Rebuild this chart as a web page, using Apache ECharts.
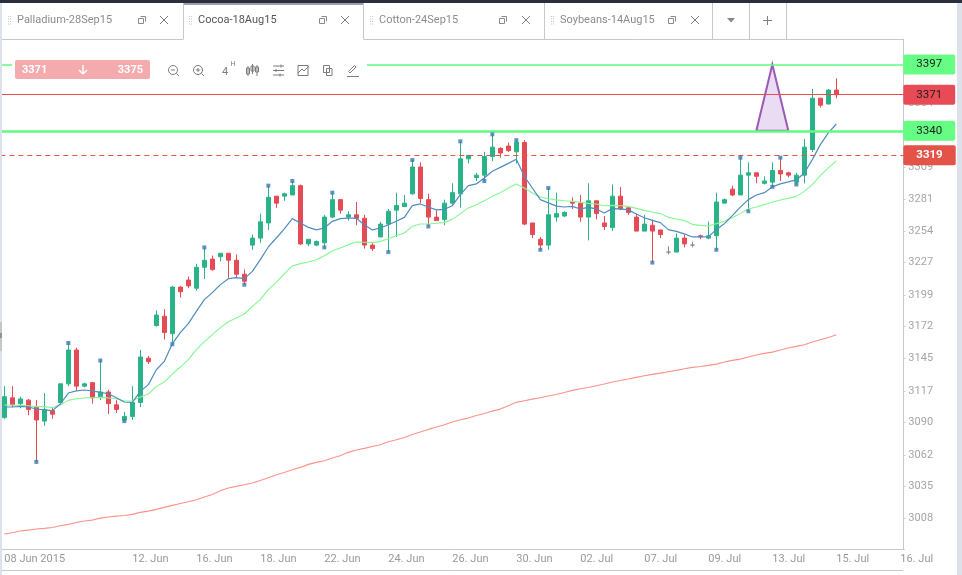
<!DOCTYPE html>
<html>
<head>
<meta charset="utf-8">
<title>Cocoa-18Aug15</title>
<style>
html,body{margin:0;padding:0;background:#fff;overflow:hidden}
#chart{width:962px;height:575px}
</style>
<script src="https://cdn.jsdelivr.net/npm/echarts@6/dist/echarts.min.js"></script>
</head>
<body>
<div id="chart"></div>
<script>
// Four-hour cocoa candles: [open, close, low, high]
const candles = [
[3094,3112,3093,3121],[3111,3105,3103,3121],[3106,3110,3102,3112],[3109,3101,3096,3110],[3103,3092,3056,3109],
[3091,3101,3087,3115],[3100,3097,3093,3103],[3107,3123,3106,3123],[3123,3152,3121,3158],[3152,3121,3117,3154],
[3121,3123,3120,3124],[3124,3111,3106,3124],[3112,3116,3109,3143],[3116,3106,3097,3118],[3105,3101,3098,3109],
[3092,3095,3091,3099],[3095,3107,3092,3121],[3107,3146,3103,3152],[3145,3142,3140,3147],[3173,3182,3172,3186],
[3181,3167,3161,3187],[3166,3206,3157,3207],[3206,3202,3197,3207],[3212,3207,3205,3215],[3205,3223,3203,3226],
[3223,3229,3213,3240],[3230,3221,3220,3233],[3232,3235,3228,3235],[3235,3229,3214,3235],[3229,3217,3214,3234],
[3217,3211,3208,3221],[3242,3248,3238,3251],[3248,3262,3244,3269],[3261,3283,3255,3293],[3284,3278,3274,3284],
[3284,3286,3280,3287],[3285,3293,3285,3297],[3293,3243,3242,3294],[3243,3247,3241,3247],[3242,3245,3241,3246],
[3244,3266,3240,3268],[3266,3281,3265,3287],[3281,3272,3269,3281],[3266,3268,3263,3271],[3268,3265,3259,3279],
[3265,3242,3239,3268],[3242,3239,3237,3244],[3249,3260,3249,3262],[3260,3271,3236,3273],[3272,3276,3249,3287],
[3275,3278,3275,3285],[3286,3309,3285,3315],[3309,3282,3278,3313],[3281,3266,3258,3286],[3266,3263,3263,3272],
[3264,3278,3259,3281],[3278,3287,3277,3295],[3286,3316,3274,3331],[3316,3319,3312,3319],[3300,3302,3297,3304],
[3302,3318,3297,3322],[3318,3326,3314,3337],[3325,3321,3317,3326],[3327,3323,3322,3330],[3322,3330,3312,3332],
[3330,3260,3259,3332],[3261,3251,3248,3261],[3247,3242,3238,3249],[3242,3268,3238,3291],[3266,3269,3262,3287],
[3267,3270,3266,3271],[3279,3278,3273,3283],[3278,3266,3262,3285],[3266,3280,3246,3295],[3280,3269,3264,3280],
[3261,3258,3255,3267],[3257,3284,3254,3294],[3284,3273,3272,3292],[3274,3270,3268,3274],[3266,3254,3254,3269],
[3254,3260,3254,3268],[3259,3254,3227,3264],[3255,3251,3248,3255],[3236,3236,3234,3241],[3236,3248,3236,3252],
[3248,3243,3240,3251],[3242,3242,3240,3245],[3250,3249,3247,3251],[3248,3250,3247,3262],[3250,3279,3238,3287],
[3278,3281,3278,3282],[3290,3285,3284,3293],[3285,3302,3285,3317],[3302,3304,3271,3313],[3304,3301,3295,3304],
[3295,3297,3294,3301],[3296,3306,3292,3313],[3306,3303,3297,3317],[3304,3302,3300,3305],[3296,3302,3294,3304],
[3302,3326,3295,3333],[3324,3368,3322,3376],[3368,3362,3360,3368],[3363,3375,3363,3376],[3375,3371,3368,3385]
];

// Fast moving average
const fastAverage = [
3103.1,3103.1,3103.6,3103.1,3101.4,3100.6,3100,3105.7,3115.1,3116.9,3117.7,3116.9,3115.7,3114.5,3111.1,
3107.4,3107.1,3116.5,3122.3,3135.1,3142.3,3157.4,3166.9,3174.6,3185.2,3195.2,3201.2,3208.1,3213.2,3214.1,
3213.2,3219.5,3229.5,3240.4,3248.1,3255.9,3264.7,3261,3257.2,3255,3256.7,3262.4,3264.7,3265.1,3265.1,
3259.5,3255,3256.7,3259.5,3262.4,3265.8,3275.8,3277.3,3274.7,3272.2,3272.7,3275.8,3285.3,3293,3294.5,
3299.6,3305.3,3308.7,3312.1,3315.6,3301,3291,3281,3278.2,3275.4,3274.7,3275.2,3273,3274.4,3273,
3269.6,3273.3,3273,3272.2,3268.7,3265.5,3263.2,3261.3,3255.3,3253.8,3251.6,3249,3249,3249.2,3255.3,
3260.4,3267.3,3274.6,3281,3285,3287,3291.9,3294.5,3296.2,3297.9,3303.9,3315.3,3328.2,3338.2,3345.9
];

// Medium moving average
const mediumAverage = [
3104.8,3104.8,3104.5,3104.2,3103.4,3103.4,3102.5,3105.1,3108.8,3110.2,3110.9,3111.1,3111.4,3110.9,3110.2,
3108.3,3108.5,3111.7,3114.3,3120.8,3124.6,3131.4,3137.4,3143.7,3152.3,3159.2,3165.2,3171.2,3176.3,3179.5,
3182.9,3189.4,3195.2,3203.8,3210,3217.5,3224.1,3226.1,3227.5,3229.5,3232.9,3237.2,3239.5,3242.4,3244.7,
3244.5,3244.1,3245.2,3247.5,3250.1,3252.4,3258.1,3260.1,3260.1,3260.7,3261.5,3264.1,3269,3273.9,3276.7,
3280.1,3283.8,3287,3291,3294.5,3291,3286.7,3283.3,3281.8,3280.8,3280,3279.5,3278.7,3277.8,3277.3,
3275.8,3276.1,3275.8,3275.2,3273.5,3271.8,3270.4,3269,3265.8,3264.4,3263,3259.8,3258.9,3258.4,3260.4,
3262.5,3265.5,3269,3273,3274.7,3276.7,3279,3280.7,3282.1,3283.8,3288.1,3293.9,3301.6,3308.2,3314.2
];

// Slow moving average
const slowAverage = [
2994.1,2995.2,2996.7,2997.5,2998.4,2999,2999.8,3001.3,3002.4,3004.1,3005.3,3006.1,3007.8,3008.7,3009.5,
3010.1,3011,3012.7,3013.8,3015.3,3017,3018.7,3020.4,3021.8,3023.6,3025.9,3028.1,3031.3,3033.6,3035,
3036.4,3037.9,3040.1,3042.4,3045,3047,3049.3,3051.3,3053.9,3055.6,3057,3059.3,3061.3,3064.2,3066.2,
3067.6,3069.3,3070.7,3073.3,3075,3077,3079.6,3081.6,3083.9,3085.9,3087.9,3090.2,3092.2,3093.6,3095.9,
3097.6,3099.6,3101.3,3104.2,3107.1,3108.5,3109.9,3111.1,3112.5,3113.9,3115.6,3117.4,3118.8,3119.9,3121.4,
3122.8,3124.5,3125.9,3127.1,3128.5,3129.9,3131.1,3132.2,3133.4,3134.5,3135.9,3137.1,3137.9,3138.8,3139.9,
3141.7,3143.1,3144.2,3146,3147.7,3149.1,3150.2,3152,3153.7,3155.1,3156.5,3158.8,3160.8,3162.8,3165.1
];

// Candles flagged as swing points, marked at the end of the wick
const swingHighs = [8,12,25,33,36,41,51,57,61,64,68,92,97];
const swingLows = [4,15,21,30,40,48,53,60,67,81,89,93,96,99];
const dojis = [83,86];

// Price levels
const resistanceLevel = 3397;
const lastPrice = 3371;
const supportLevel = 3340;
const dashedLevel = 3319;
const bidPrice = 3371;
const askPrice = 3375;

// Triangle pattern: left, apex and right candle, base and apex price
const triangleIndexes = [94,96,98];
const trianglePrices = [3340,3397];

// Axis labels
const priceTicks = [3008,3035,3062,3090,3117,3145,3172,3199,3227,3254,3281,3309,3336,3364,3391];
const dateTickIndexes = [0,16,24,32,40,48,56,64,72,80,88,96,104,112];
const dateTickLabels = ['08 Jun 2015','12. Jun','16. Jun','18. Jun','22. Jun','24. Jun','26. Jun','30. Jun','02. Jul','07. Jul','09. Jul','13. Jul','15. Jul','16. Jul'];
const slotCount = 113;
const tabTitles = ['Palladium-28Sep15','Cocoa-18Aug15','Cotton-24Sep15','Soybeans-14Aug15'];

const UP = '#2ab389', DOWN = '#e64b55', GREY = '#8a8a8a', LINE_GREEN = '#62fb82', FRAME = '#c5c8cd', ICON = '#7d7d7d';

const categories = [];
for (let i = 0; i < slotCount; i++) {
  const at = dateTickIndexes.indexOf(i);
  categories.push(at >= 0 ? dateTickLabels[at] : '');
}

const candleData = candles.map((c, i) => dojis.includes(i)
  ? {value: c, itemStyle: {color: GREY, color0: GREY, borderColor: GREY, borderColor0: GREY}}
  : c);

const swingPoints = swingHighs.map(i => [i, candles[i][3]])
  .concat(swingLows.map(i => [i, candles[i][2]]));

function averageSeries(name, data, color, z, width) {
  return {name, type: 'line', data, symbol: 'none', smooth: false, z,
    lineStyle: {color, width}, silent: true};
}

function levelLine(value, color, width, dash, tagBg, tagColor, bold) {
  return {
    yAxis: value,
    lineStyle: {color, width, type: dash || 'solid', opacity: 1},
    label: {
      show: true, position: 'end', distance: -1, formatter: String(value),
      backgroundColor: tagBg, color: tagColor, borderRadius: 2,
      padding: [4, 13], fontSize: 11.5, lineHeight: 12,
      fontFamily: 'Roboto', fontWeight: bold ? 'bold' : 'normal'
    }
  };
}

/* Window chrome helpers */
const chrome = [];
function rect(x, y, w, h, fill, r) {
  chrome.push({type: 'rect', silent: true, z: 50, shape: {x, y, width: w, height: h, r: r || 0}, style: {fill}});
}
function stroke(x1, y1, x2, y2, color, w) {
  chrome.push({type: 'line', silent: true, z: 51, shape: {x1, y1, x2, y2}, style: {stroke: color || ICON, lineWidth: w || 1}});
}
function text(x, y, str, color, size, weight, align) {
  chrome.push({type: 'text', silent: true, z: 52, x, y, style: {
    text: str, fill: color, fontSize: size, fontWeight: weight || 'normal',
    fontFamily: 'Roboto', align: align || 'left', verticalAlign: 'middle'}});
}
function outline(x, y, w, h, color) {
  chrome.push({type: 'rect', silent: true, z: 51, shape: {x, y, width: w, height: h}, style: {fill: 'none', stroke: color || ICON, lineWidth: 1}});
}
function circle(cx, cy, r) {
  chrome.push({type: 'circle', silent: true, z: 51, shape: {cx, cy, r}, style: {fill: 'none', stroke: ICON, lineWidth: 1}});
}
function grip(x) {
  for (let k = 0; k < 4; k++) {
    rect(x, 16 + k * 2.5, 1, 1, '#c4c4c4');
    rect(x + 2, 16 + k * 2.5, 1, 1, '#c4c4c4');
  }
}
function tabButtons(restoreX, closeX) {
  outline(restoreX - 3.5, 18.5, 5, 5, '#8a8a8a');
  stroke(restoreX - 1.5, 16.5, restoreX + 3.5, 16.5, '#8a8a8a');
  stroke(restoreX + 3.5, 16.5, restoreX + 3.5, 21.5, '#8a8a8a');
  stroke(closeX - 4, 16, closeX + 4, 24, '#7a7a7a');
  stroke(closeX + 4, 16, closeX - 4, 24, '#7a7a7a');
}

// Page edges
rect(0, 0, 962, 3, '#2b2f3d');
rect(0, 3, 2, 572, '#dde1ea');
rect(957, 3, 5, 572, '#dde1ea');
rect(0, 322, 2, 29, '#c3c6cc');
rect(0, 333, 2, 5, '#8e9196');

// Tab strip
stroke(2, 39.5, 183, 39.5, FRAME);
stroke(364, 39.5, 903, 39.5, FRAME);
[183.5, 363.5, 544.5, 712.5, 749.5, 786.5].forEach(x => stroke(x, 3, x, 39.5, FRAME));
rect(183, 3, 181, 2, '#9aa0ae');
[[17, 8, 142, 164], [198, 189, 323, 345], [379, 370, 503, 526], [560, 551, 672, 695]].forEach((t, i) => {
  text(t[0], 20, tabTitles[i], i === 1 ? '#555' : '#8c8c8c', 11);
  grip(t[1]);
  tabButtons(t[2], t[3]);
});
chrome.push({type: 'polygon', silent: true, z: 51, shape: {points: [[727, 18], [735, 18], [731, 22.5]]}, style: {fill: '#888'}});
stroke(763, 20.5, 772, 20.5, '#808080');
stroke(767.5, 16, 767.5, 25, '#808080');

// Trade toolbar
rect(12, 55, 355, 25, '#ffffff');
rect(15, 60, 135, 19, '#f4abae', 2);
text(22, 70, String(bidPrice), '#fff', 11, 'bold');
text(143, 70, String(askPrice), '#fff', 11, 'bold', 'right');
stroke(83, 65, 83, 74, '#fff', 1.5);
stroke(79, 70, 83, 74, '#fff', 1.5);
stroke(87, 70, 83, 74, '#fff', 1.5);
circle(173, 70, 4.5); stroke(176.5, 73.5, 179, 76); stroke(171, 70, 175, 70);
circle(198, 70, 4.5); stroke(201.5, 73.5, 204, 76); stroke(196, 70, 200, 70); stroke(198, 68, 198, 72);
text(225, 72, '4', ICON, 11, 'normal', 'center');
text(233, 64, 'H', ICON, 7, 'normal', 'center');
[[248, 66, 76, 68, 74], [252.5, 64, 74, 66, 71], [257, 65, 76, 67, 72]].forEach(c => {
  stroke(c[0], c[1], c[0], c[2]);
  outline(c[0] - 1.5, c[3], 3, c[4] - c[3]);
});
[66, 70.5, 75].forEach(y => stroke(273, y, 284, y));
stroke(281, 64.5, 281, 67.5); stroke(276, 69, 276, 72); stroke(280, 73.5, 280, 76.5);
outline(298, 65.5, 10, 10);
stroke(298, 73, 302, 69); stroke(302, 69, 304, 71); stroke(304, 71, 309, 66);
outline(323.5, 65.5, 6, 7); outline(326.5, 68.5, 5.5, 7);
stroke(347, 76.5, 359, 76.5);
stroke(350, 73, 356, 67); stroke(348.5, 71.5, 354.5, 65.5); stroke(348.5, 71.5, 350, 73); stroke(354.5, 65.5, 356, 67);

// Bottom frame
stroke(2, 570.5, 903, 570.5, FRAME);

const chart = echarts.init(document.getElementById('chart'), null, {renderer: 'canvas'});
chart.setOption({
  animation: false,
  backgroundColor: '#ffffff',
  grid: {left: 0.33, top: 39, width: 904, height: 510, containLabel: false},
  xAxis: {
    type: 'category', data: categories, boundaryGap: true,
    axisLine: {lineStyle: {color: FRAME, width: 1}},
    axisTick: {alignWithLabel: true, length: 3, interval: i => i % 4 === 0, lineStyle: {color: FRAME}},
    axisLabel: {
      interval: i => categories[i] !== '', align: 'left', color: '#999',
      fontFamily: 'Roboto', fontSize: 11, margin: 5, hideOverlap: false
    },
    splitLine: {show: false}
  },
  yAxis: {
    type: 'value', position: 'right', offset: -1, min: 2981.3, max: 3418.8, scale: true,
    axisLine: {show: true, lineStyle: {color: FRAME, width: 1}},
    axisTick: {show: true, length: 2, customValues: priceTicks, lineStyle: {color: FRAME}},
    axisLabel: {customValues: priceTicks, formatter: v => String(v), color: '#a5a5a5', fontFamily: 'Roboto', fontSize: 11, margin: 5},
    splitLine: {show: false}
  },
  series: [
    {
      name: 'Cocoa', type: 'candlestick', data: candleData, barWidth: 5, z: 3,
      itemStyle: {color: UP, color0: DOWN, borderColor: UP, borderColor0: DOWN, borderWidth: 1},
      silent: true
    },
    {
      // Carries the horizontal price levels and their value tags
      name: 'Levels', type: 'line', data: [], z: 4, silent: true,
      markLine: {
        silent: true, symbol: 'none', animation: false, z: 6,
        data: [
          levelLine(resistanceLevel, LINE_GREEN, 1.5, null, '#66fd85', '#1d1d1d'),
          levelLine(lastPrice, '#f04a52', 1.2, null, '#e84b55', '#1d1d1d'),
          levelLine(supportLevel, LINE_GREEN, 2.5, null, '#66fd85', '#1d1d1d'),
          levelLine(dashedLevel, '#ea5048', 1.2, [5, 4], '#e55247', '#ffffff', true)
        ]
      }
    },
    averageSeries('Slow average', slowAverage, '#ff9288', 4, 1.1),
    averageSeries('Medium average', mediumAverage, '#85f794', 4, 1.1),
    averageSeries('Fast average', fastAverage, '#4f8dc0', 5, 1.2),
    {
      name: 'Swing points', type: 'scatter', data: swingPoints, symbol: 'rect', symbolSize: 4, z: 6,
      itemStyle: {color: '#3a78b2'}, silent: true
    },
    {
      name: 'Triangle', type: 'custom', z: 5, silent: true,
      data: [[triangleIndexes[0], triangleIndexes[1], triangleIndexes[2], trianglePrices[0], trianglePrices[1]]],
      encode: {x: [0, 1, 2], y: [3, 4]},
      renderItem: (params, api) => ({
        type: 'polygon',
        shape: {points: [
          api.coord([api.value(0), api.value(3)]),
          api.coord([api.value(1), api.value(4)]),
          api.coord([api.value(2), api.value(3)])
        ]},
        style: {fill: '#eadcf2', stroke: '#9b59b8', lineWidth: 2, lineJoin: 'miter'}
      })
    }
  ],
  graphic: {elements: chrome}
});
</script>
</body>
</html>
